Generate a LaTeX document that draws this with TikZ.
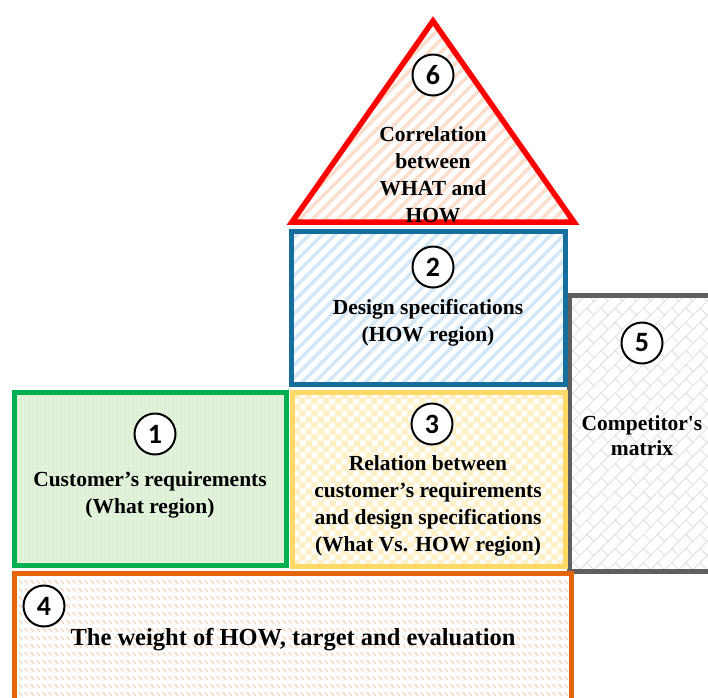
\documentclass[tikz,border=0pt]{standalone}
\usepackage{fontspec}
\setmainfont{Liberation Serif}
\newfontfamily\rawserif{Liberation Serif}
\newfontfamily\numfont{Carlito}
\usetikzlibrary{patterns,patterns.meta}

\definecolor{hred}{RGB}{255,0,0}
\definecolor{hblue}{RGB}{21,110,156}
\definecolor{hgreen}{RGB}{0,176,80}
\definecolor{hyellow}{RGB}{255,217,102}
\definecolor{hgray}{RGB}{95,95,95}
\definecolor{horange}{RGB}{228,100,10}
\definecolor{peach}{RGB}{252,222,205}
\definecolor{lblue}{RGB}{210,231,248}
\definecolor{lgreen}{RGB}{222,240,214}
\definecolor{lyellow}{RGB}{255,240,200}
\definecolor{ldash}{RGB}{250,205,180}
\definecolor{lgray}{RGB}{222,222,222}

\tikzdeclarepattern{
  name=bricks, type=uncolored,
  bottom left={(-1pt,-1pt)}, top right={(21pt,21pt)},
  tile size={(20pt,20pt)}, tile transformation={rotate=45},
  code={\draw[line width=0.8pt] (-1pt,0pt) -- (21pt,0pt) (-1pt,10pt) -- (21pt,10pt) (0pt,0pt) -- (0pt,10pt) (10pt,10pt) -- (10pt,20pt);}
}
\tikzdeclarepattern{
  name=dashrows, type=uncolored,
  bottom left={(0pt,0pt)}, top right={(6pt,8pt)},
  tile size={(6pt,8pt)},
  code={\draw[line width=1.1pt] (0.8pt,6.5pt) -- (4.6pt,2.5pt);}
}
\tikzdeclarepattern{
  name=checks, type=uncolored,
  bottom left={(0pt,0pt)}, top right={(12pt,12pt)},
  tile size={(12pt,12pt)},
  code={\fill (0pt,0pt) rectangle (6pt,6pt) (6pt,6pt) rectangle (12pt,12pt);}
}

\tikzset{
  region/.style={line width=5pt, line join=miter},
  num/.style={circle, draw=black, line width=2pt, fill=white, minimum size=41pt, inner sep=0pt, font=\numfont\bfseries\fontsize{28}{28}\selectfont},
  label/.style={align=center, inner sep=0pt, font=\bfseries\fontsize{21.5}{27}\selectfont},
}

\begin{document}
\begin{tikzpicture}[x=1pt,y=-1pt]
\path[use as bounding box] (0,0) rectangle (708,697);
\clip (0,0) rectangle (708,697);

% 5 competitor's matrix
\draw[region, draw=hgray, preaction={fill=white}, pattern=bricks, pattern color=lgray]
  (569.5,295) rectangle (720,571);
% 6 triangle
\draw[region, line width=5.5pt, draw=hred, preaction={fill=white},
  pattern={Lines[angle=45,distance=9pt,line width=3.5pt]}, pattern color=peach]
  (433,21) -- (574,222) -- (292,222) -- cycle;
% 2 design specifications
\draw[region, draw=hblue, preaction={fill=white},
  pattern={Lines[angle=45,distance=9pt,line width=3.5pt]}, pattern color=lblue]
  (291,231) rectangle (565,384.5);
% 1 customer's requirements
\draw[region, draw=hgreen, preaction={fill=lgreen},
  pattern={Dots[distance=4pt,radius=0.8pt]}, pattern color=white]
  (14,392) rectangle (286,565);
% 3 relation
\draw[region, draw=hyellow, preaction={fill=lyellow}, pattern=checks, pattern color=white]
  (292,392) rectangle (565,566);
% 4 weight of HOW
\draw[region, draw=horange, preaction={fill=white}, pattern=dashrows, pattern color=ldash]
  (14,573.5) rectangle (571,720);

% numbers
\node[num] (n6) at (433,75) {6};
\node[num] (n2) at (433,267) {2};
\node[num] (n1) at (155,434) {1};
\node[num] (n3) at (432,424) {3};
\node[num] (n5) at (642,343) {5};
\node[num] (n4) at (44,606) {4};

% texts
\node[label] (t6) at (433,175) {Correlation\\between\\WHAT and\\HOW};
\node[label] (t2) at (428,323) {Design specifications\\(HOW region)};
\node[label] (t1) at (150,495) {Customer’s requirements\\(What region)};
\node[label] (t3) at (428,506) {Relation between\\customer’s requirements\\and design specifications\\(What Vs. HOW region)};
\node[label, font=\bfseries\fontsize{21.5}{25}\selectfont] (t5) at (642,436) {Competitor{\rawserif\bfseries '}s\\matrix};
\node[label, font=\bfseries\fontsize{24.5}{30}\selectfont] (t4) at (293,640) {The weight of HOW, target and evaluation};
\end{tikzpicture}
\end{document}
